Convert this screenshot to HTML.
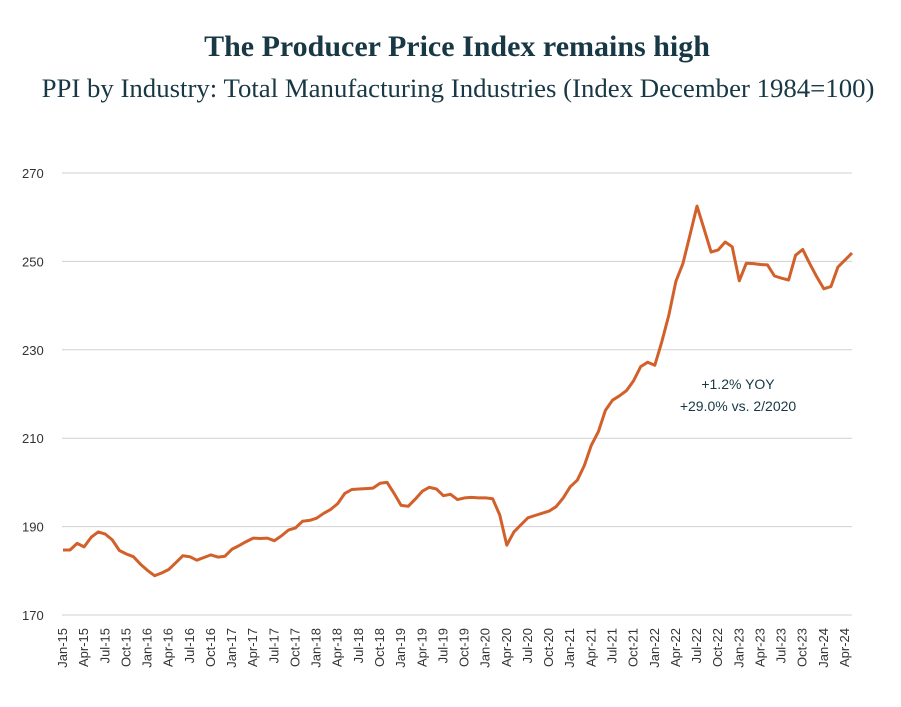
<!DOCTYPE html>
<html><head><meta charset="utf-8"><style>
body{margin:0;background:#fff;width:901px;height:707px;overflow:hidden}
svg{display:block}
</style></head><body>
<svg width="901" height="707" id="chart">
<text x="457" y="56" text-anchor="middle" font-family="Liberation Serif, serif" font-size="30" font-weight="bold" fill="#173844">The Producer Price Index remains high</text>
<text x="458" y="97" text-anchor="middle" font-family="Liberation Serif, serif" font-size="26.8" fill="#173844">PPI by Industry: Total Manufacturing Industries (Index December 1984=100)</text>
<g id="grid"></g><g id="ylab"></g><g id="xlab"></g><g id="line"></g>
<text x="738" y="389" text-anchor="middle" font-family="Liberation Sans, sans-serif" font-size="14" fill="#173844">+1.2% YOY</text>
<text x="738" y="411" text-anchor="middle" font-family="Liberation Sans, sans-serif" font-size="14" fill="#173844">+29.0% vs. 2/2020</text>
</svg>
<script>
const values=[184.7,184.7,186.2,185.4,187.6,188.8,188.3,187.0,184.6,183.8,183.2,181.5,
180.1,178.9,179.5,180.3,181.8,183.4,183.2,182.4,183.0,183.6,183.1,183.3,
184.9,185.7,186.6,187.4,187.3,187.4,186.8,187.9,189.2,189.7,191.2,191.4,
191.9,193.0,193.9,195.2,197.5,198.4,198.5,198.6,198.7,199.8,200.0,197.5,
194.8,194.6,196.2,198.0,198.9,198.5,197.0,197.3,196.1,196.5,196.6,196.5,
196.5,196.3,192.6,185.8,188.8,190.4,192.0,192.5,193.0,193.5,194.5,196.5,
199.0,200.5,203.8,208.4,211.5,216.3,218.6,219.6,220.8,223.0,226.2,227.2,
226.5,231.8,237.8,245.5,249.5,256.0,262.5,257.3,252.1,252.6,254.4,253.3,
245.6,249.6,249.5,249.3,249.2,246.7,246.2,245.8,251.4,252.7,249.5,246.5,
243.8,244.3,248.7,250.3,251.9];
const yTicks=[170,190,210,230,250,270];
const monthNames=["Jan","Feb","Mar","Apr","May","Jun","Jul","Aug","Sep","Oct","Nov","Dec"];
const startYear=15;
const NS="http://www.w3.org/2000/svg";
const X0=63,X1=852,Yb=615,Yt=173;
const xs=i=>X0+(X1-X0)*i/(values.length-1);
const ys=v=>Yb-(v-170)*(Yb-Yt)/100;
function mk(t,a,p){const e=document.createElementNS(NS,t);for(const k in a)e.setAttribute(k,a[k]);p.appendChild(e);return e;}
const grid=document.getElementById('grid'),yl=document.getElementById('ylab'),xl=document.getElementById('xlab'),ln=document.getElementById('line');
yTicks.forEach(v=>{
 const g=mk('line',{x1:62,x2:852,y1:ys(v),y2:ys(v),stroke:'#d0d0d0','stroke-width':1},grid);
 
 
 const t=mk('text',{x:22,y:ys(v)+5,'font-family':'Liberation Sans, sans-serif','font-size':13,fill:'#333'},yl);
 t.textContent=v;
 
 
});
for(let i=0;i<values.length;i+=3){
 const lab=monthNames[i%12]+'-'+(startYear+Math.floor(i/12));
 const x=xs(i)+4;
 const t=mk('text',{x:x,y:628,transform:`rotate(-90 ${x} 628)`,'text-anchor':'end','font-family':'Liberation Sans, sans-serif','font-size':13,fill:'#333'},xl);
 t.textContent=lab;
 
 
}
const p=mk('path',{d:values.map((v,i)=>(i?'L':'M')+xs(i).toFixed(1)+' '+ys(v).toFixed(1)).join(''),fill:'none',stroke:'#d2602a','stroke-width':3,'stroke-linejoin':'round'},ln);


</script>
</body></html>
